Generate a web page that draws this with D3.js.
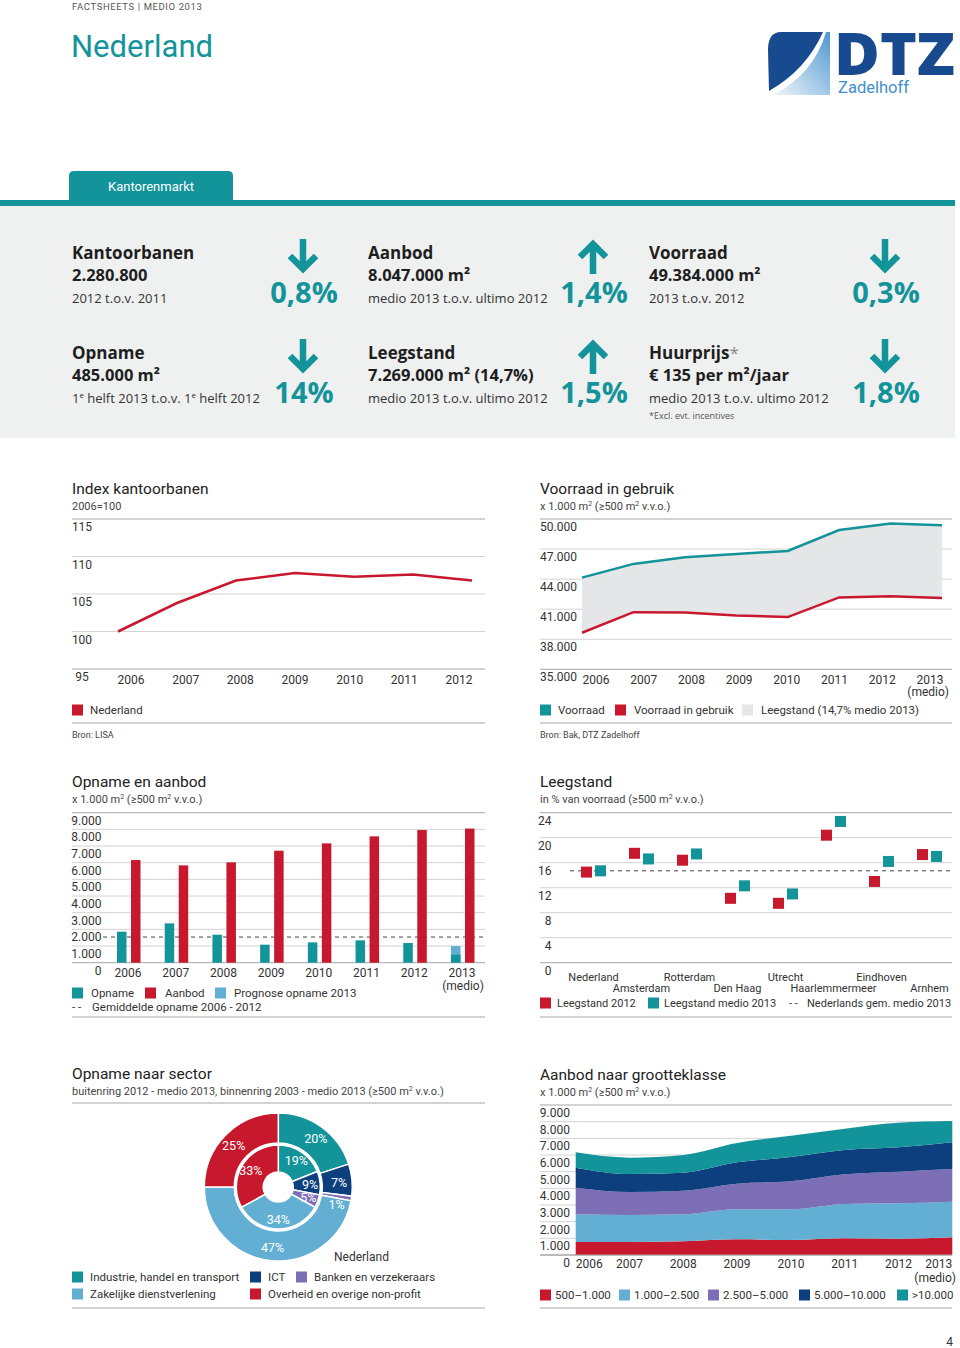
<!DOCTYPE html>
<html><head><meta charset="utf-8">
<script src="https://cdn.jsdelivr.net/npm/d3@7"></script>
<style>body{margin:0;background:#fff} svg{display:block}</style>
</head><body>
<script>
// ---------------- DATA ----------------
const kpiTitles = ["Kantoorbanen","Aanbod","Voorraad","Opname","Leegstand","Huurprijs"];
const kpiValues = ["2.280.800","8.047.000 m²","49.384.000 m²","485.000 m²","7.269.000 m² (14,7%)","€ 135 per m²/jaar"];
const kpiNotes = ["2012 t.o.v. 2011","medio 2013 t.o.v. ultimo 2012","2013 t.o.v. 2012","1|e| helft 2013 t.o.v. 1|e| helft 2012","medio 2013 t.o.v. ultimo 2012","medio 2013 t.o.v. ultimo 2012"];
const kpiChanges = ["0,8%","1,4%","0,3%","14%","1,5%","1,8%"];
const kpiDirs = ["down","up","down","down","up","down"];

const indexYears = ["2006","2007","2008","2009","2010","2011","2012"];
const indexValues = [100, 103.8, 106.8, 107.8, 107.3, 107.6, 106.8];
const indexTicks = [95, 100, 105, 110, 115];

const stockYears = ["2006","2007","2008","2009","2010","2011","2012","2013"];
const stockTotal = [44150, 45520, 46180, 46510, 46810, 48900, 49540, 49384];
const stockInUse = [38650, 40700, 40670, 40370, 40210, 42170, 42300, 42120];
const stockTicks = [35000, 38000, 41000, 44000, 47000, 50000];

const oaYears = ["2006","2007","2008","2009","2010","2011","2012","2013"];
const takeUp = [1860, 2360, 1680, 1080, 1220, 1340, 1180, 485];
const takeUpForecast = [0, 0, 0, 0, 0, 0, 0, 1000];
const supply = [6160, 5840, 6020, 6720, 7160, 7580, 7960, 8047];
const avgTakeUp = 1540;
const oaTicks = [0,1000,2000,3000,4000,5000,6000,7000,8000,9000];

const cities = ["Nederland","Amsterdam","Rotterdam","Den Haag","Utrecht","Haarlemmermeer","Eindhoven","Arnhem"];
const vacancy2012 = [14.5, 17.5, 16.4, 10.3, 9.5, 20.4, 13.0, 17.3];
const vacancy2013 = [14.7, 16.6, 17.4, 12.3, 11.0, 22.6, 16.2, 17.0];
const vacancyAvg = 14.7;
const vacTicks = [0, 4, 8, 12, 16, 20, 24];

const sectors = ["Industrie, handel en transport","ICT","Banken en verzekeraars","Zakelijke dienstverlening","Overheid en overige non-profit"];
const outerShares = [20, 7, 1, 47, 25];   // buitenring 2012 - medio 2013
const innerShares = [19, 9, 5, 34, 33];   // binnenring 2003 - medio 2013
const outerLabelNudge = [2, 1, 8, 0, -2]; // degrees, label placement only

const sizeYears = ["2006","2007","2008","2009","2010","2011","2012","2013"];
const sizeClasses = ["500–1.000","1.000–2.500","2.500–5.000","5.000–10.000",">10.000"];
const size500 = [780, 780, 820, 940, 900, 1000, 980, 1060];
const size1000 = [1660, 1620, 1620, 1800, 1840, 2060, 2120, 2140];
const size2500 = [1600, 1380, 1420, 1540, 1680, 1780, 1900, 1960];
const size5000 = [1200, 1080, 1080, 1280, 1460, 1460, 1460, 1600];
const size10000 = [920, 980, 1060, 1160, 1280, 1280, 1480, 1280];
const sizeTicks = [0,1000,2000,3000,4000,5000,6000,7000,8000,9000];

// ---------------- STYLE ----------------
const TEAL = "#13939a", RED = "#c8182d", LBLUE = "#62afd3", DBLUE = "#0d3f7f", PURPLE = "#7d6fb6", LGREY = "#e5e6e8";
const F = "Roboto, 'Open Sans', sans-serif";
const FB = "'Open Sans', sans-serif";
const GRID = "#d3d3d3", AXIS = "#a5a5a5", TXT = "#333";
const nl = d3.formatLocale({decimal:",", thousands:".", grouping:[3], currency:["€ ",""]});
const fmt = nl.format(",d");

const svg = d3.select("body").append("svg").attr("width",960).attr("height",1348)
  .style("background","#fff");

function txt(g, x, y, s, o = {}) {
  return g.append("text").attr("x", x).attr("y", y)
    .attr("font-family", o.family || F).attr("font-size", o.size || 12)
    .attr("font-weight", o.weight || 400).attr("fill", o.fill || TXT)
    .attr("text-anchor", o.anchor || "start").text(s);
}
function hl(g, x1, x2, y, color, w = 1, dash = null) {
  const l = g.append("line").attr("x1", x1).attr("x2", x2).attr("y1", y).attr("y2", y)
    .attr("stroke", color).attr("stroke-width", w);
  if (dash) l.attr("stroke-dasharray", dash);
  return l;
}
function sq(g, x, yc, color) {
  g.append("rect").attr("x", x).attr("y", yc - 5.5).attr("width", 11).attr("height", 11).attr("fill", color);
}
function titleBlock(g, x, y, title, sub) {
  txt(g, x, y, title, {size: 15.5, fill: "#222"});
  const s = txt(g, x, y + 16, "", {size: 11, fill: "#444"});
  const parts = sub.split("²");
  parts.forEach((part, i) => {
    s.append("tspan").attr("font-size", 11).attr("dy", i ? 4 : 0).text(part);
    if (i < parts.length - 1) s.append("tspan").attr("font-size", 7).attr("dy", -4).text("2");
  });
}

// ---------------- HEADER ----------------
txt(svg, 72, 10, "FACTSHEETS | MEDIO 2013", {size: 9.5, fill: "#555"}).attr("letter-spacing", 0.6);
txt(svg, 71, 57, "Nederland", {size: 31, fill: TEAL});

// Logo
const logo = svg.append("g");
const defs = svg.append("defs");
const grad = defs.append("linearGradient").attr("id","sail").attr("x1","0%").attr("y1","100%").attr("x2","100%").attr("y2","0%");
grad.append("stop").attr("offset","0%").attr("stop-color","#f2f7fb");
grad.append("stop").attr("offset","100%").attr("stop-color","#4f98d0");
logo.append("path").attr("d","M781 32 L823 32 Q806 70 769 91 L768 50 Q768 32 781 32 Z").attr("fill","#174a8e");
logo.append("path").attr("d","M826 32 L830 32 L830 95 L773 95 Q814 74 826 32 Z").attr("fill","url(#sail)");
txt(logo, 834, 75, "DTZ", {family: FB, size: 58, weight: 800, fill: "#174a8e"})
  .attr("textLength", 121).attr("lengthAdjust", "spacingAndGlyphs");
txt(logo, 838, 93, "Zadelhoff", {family: F, size: 16, fill: "#3f8fcd"})
  .attr("textLength", 71).attr("lengthAdjust", "spacingAndGlyphs");

// Tab + bar
svg.append("path").attr("d","M69 201 V176 Q69 171 74 171 H228 Q233 171 233 176 V201 Z").attr("fill", TEAL);
txt(svg, 151, 191, "Kantorenmarkt", {size: 13, fill: "#fff", anchor: "middle"});
svg.append("rect").attr("x",0).attr("y",200).attr("width",955).attr("height",6).attr("fill",TEAL);
svg.append("rect").attr("x",0).attr("y",206).attr("width",955).attr("height",232).attr("fill","#eff0f0");

// ---------------- KPI ----------------
const colX = [72, 368, 649], arrowX = [303, 593, 885], rowDY = [0, 100];
function arrow(g, cx, top, dir) {
  const a = g.append("g").attr("stroke", TEAL).attr("stroke-width", 6.5).attr("fill", "none")
    .attr("stroke-linejoin", "miter").attr("stroke-miterlimit", 10);
  if (dir === "down") {
    a.append("path").attr("d", `M${cx} ${top} V${top + 30}`);
    a.append("path").attr("d", `M${cx - 13} ${top + 17} L${cx} ${top + 30} L${cx + 13} ${top + 17}`);
  } else {
    a.append("path").attr("d", `M${cx} ${top + 35} V${top + 5}`);
    a.append("path").attr("d", `M${cx - 13} ${top + 18} L${cx} ${top + 5} L${cx + 13} ${top + 18}`);
  }
}
kpiTitles.forEach((t, i) => {
  const c = i % 3, r = Math.floor(i / 3), dy = rowDY[r];
  const g = svg.append("g");
  const tt = txt(g, colX[c], 259 + dy, t, {family: FB, size: 17, weight: 700, fill: "#1e1e1e"});
  if (t === "Huurprijs") tt.append("tspan").attr("font-weight", 400).attr("fill", "#888").text("*");
  txt(g, colX[c], 281 + dy, kpiValues[i], {family: FB, size: 16.5, weight: 700, fill: "#1e1e1e"});
  const n = txt(g, colX[c], 303 + dy, "", {family: FB, size: 13, fill: "#333"});
  kpiNotes[i].split("|").forEach((p, k) => {
    if (k % 2 === 1) n.append("tspan").attr("font-size", 8).attr("dy", -5).text(p);
    else n.append("tspan").attr("dy", k ? 5 : 0).text(p);
  });
  arrow(g, arrowX[c], 239 + dy, kpiDirs[i]);
  txt(g, arrowX[c] + 1, 303 + dy, kpiChanges[i], {family: FB, size: 29, weight: 700, fill: TEAL, anchor: "middle"});
});
txt(svg, 649, 419, "*Excl. evt. incentives", {family: FB, size: 9, fill: "#555"});

// ---------------- INDEX KANTOORBANEN ----------------
{
  const g = svg.append("g");
  titleBlock(g, 72, 494, "Index kantoorbanen", "2006=100");
  const y = d3.scaleLinear().domain([95, 115]).range([669, 519]);
  const x = d3.scalePoint().domain(indexYears).range([118, 472]);
  const xl = d3.scalePoint().domain(indexYears).range([131, 459]);
  indexTicks.forEach(t => {
    hl(g, 72, 485, y(t), (t === 95 || t === 115) ? AXIS : GRID);
    txt(g, 82, y(t) + 12, t, {size: 12, anchor: "middle"});
  });
  indexYears.forEach(yr => txt(g, xl(yr), 684, yr, {size: 12, anchor: "middle"}));
  g.append("path").datum(indexValues)
    .attr("d", d3.line().x((d, i) => x(indexYears[i])).y(d => y(d)))
    .attr("fill", "none").attr("stroke", RED).attr("stroke-width", 2.5);
  sq(g, 72, 710, RED); txt(g, 90, 714, "Nederland", {size: 11.5});
  hl(g, 72, 485, 723, AXIS, 1.2);
  txt(g, 72, 738, "Bron: LISA", {size: 9, fill: "#444"});
}

// ---------------- VOORRAAD IN GEBRUIK ----------------
{
  const g = svg.append("g");
  titleBlock(g, 540, 494, "Voorraad in gebruik", "x 1.000 m² (≥500 m² v.v.o.)");
  const y = d3.scaleLinear().domain([35000, 50000]).range([669.3, 519]);
  const x = d3.scalePoint().domain(stockYears).range([582, 942]);
  const xl = d3.scalePoint().domain(stockYears).range([596, 930]);
  stockTicks.forEach(t => {
    hl(g, 540, 952, y(t), (t === 35000 || t === 50000) ? AXIS : GRID);
  });
  g.append("path").datum(stockYears)
    .attr("d", d3.area().x(d => x(d)).y0((d, i) => y(stockInUse[i])).y1((d, i) => y(stockTotal[i])))
    .attr("fill", LGREY);
  stockTicks.forEach(t => txt(g, 540, y(t) + 12, fmt(t), {size: 12}));
  stockYears.forEach(yr => txt(g, xl(yr), 684, yr, {size: 12, anchor: "middle"}));
  txt(g, 949, 696, "(medio)", {size: 12, anchor: "end"});
  [[stockTotal, TEAL], [stockInUse, RED]].forEach(([arr, col]) => {
    g.append("path").datum(arr)
      .attr("d", d3.line().x((d, i) => x(stockYears[i])).y(d => y(d)))
      .attr("fill", "none").attr("stroke", col).attr("stroke-width", 2.5);
  });
  sq(g, 540, 710, TEAL); txt(g, 558, 714, "Voorraad", {size: 11.5});
  sq(g, 615, 710, RED); txt(g, 634, 714, "Voorraad in gebruik", {size: 11.5});
  sq(g, 742, 710, LGREY); txt(g, 761, 714, "Leegstand (14,7% medio 2013)", {size: 11.5});
  hl(g, 540, 952, 723, AXIS, 1.2);
  txt(g, 540, 738, "Bron: Bak, DTZ Zadelhoff", {size: 9, fill: "#444"});
}

// ---------------- OPNAME EN AANBOD ----------------
{
  const g = svg.append("g");
  titleBlock(g, 72, 787, "Opname en aanbod", "x 1.000 m² (≥500 m² v.v.o.)");
  const y = d3.scaleLinear().domain([0, 9000]).range([962.7, 812.7]);
  const x = d3.scalePoint().domain(oaYears).range([128, 462]);
  oaTicks.forEach(t => {
    hl(g, 72, 485, y(t), (t === 0 || t === 9000) ? AXIS : GRID);
    txt(g, 101.5, y(t) + 12, fmt(t), {size: 12, anchor: "end"});
  });
  hl(g, 103, 485, y(avgTakeUp), "#444", 1, "4,4");
  oaYears.forEach((yr, i) => {
    const c = x(yr);
    if (takeUpForecast[i] > 0)
      g.append("rect").attr("x", c - 11).attr("width", 9.5).attr("y", y(takeUpForecast[i]))
        .attr("height", y(0) - y(takeUpForecast[i])).attr("fill", LBLUE);
    g.append("rect").attr("x", c - 11).attr("width", 9.5).attr("y", y(takeUp[i]))
      .attr("height", y(0) - y(takeUp[i])).attr("fill", TEAL);
    g.append("rect").attr("x", c + 3).attr("width", 9.5).attr("y", y(supply[i]))
      .attr("height", y(0) - y(supply[i])).attr("fill", RED);
    txt(g, c, 977, yr, {size: 12, anchor: "middle"});
  });
  txt(g, x("2013") + 1, 990, "(medio)", {size: 12, anchor: "middle"});
  sq(g, 72, 993, TEAL); txt(g, 91, 997, "Opname", {size: 11.5});
  sq(g, 145, 993, RED); txt(g, 165, 997, "Aanbod", {size: 11.5});
  sq(g, 215, 993, LBLUE); txt(g, 234, 997, "Prognose opname 2013", {size: 11.5});
  txt(g, 72, 1011, "- -", {size: 11.5});
  txt(g, 92, 1011, "Gemiddelde opname 2006 - 2012", {size: 11.5});
  hl(g, 72, 485, 1017, AXIS, 1.2);
}

// ---------------- LEEGSTAND ----------------
{
  const g = svg.append("g");
  titleBlock(g, 540, 787, "Leegstand", "in % van voorraad (≥500 m² v.v.o.)");
  const y = d3.scaleLinear().domain([0, 24]).range([962.7, 812.7]);
  const x = d3.scalePoint().domain(cities).range([593.5, 929.5]);
  vacTicks.forEach(t => {
    hl(g, 540, 952, y(t), (t === 0 || t === 24) ? AXIS : GRID);
    txt(g, 551.5, y(t) + 12, t, {size: 12, anchor: "end"});
  });
  hl(g, 570, 952, y(vacancyAvg), "#444", 1, "4,4");
  cities.forEach((c, i) => {
    const cx = x(c);
    g.append("rect").attr("x", cx - 7 - 5.5).attr("y", y(vacancy2012[i]) - 5.5)
      .attr("width", 11).attr("height", 11).attr("fill", RED);
    g.append("rect").attr("x", cx + 7 - 5.5).attr("y", y(vacancy2013[i]) - 5.5)
      .attr("width", 11).attr("height", 11).attr("fill", TEAL);
    txt(g, cx, i % 2 ? 992 : 981, c, {size: 11, anchor: "middle"});
  });
  sq(g, 540, 1003, RED); txt(g, 557, 1007, "Leegstand 2012", {size: 11});
  sq(g, 648, 1003, TEAL); txt(g, 664, 1007, "Leegstand medio 2013", {size: 11});
  txt(g, 789, 1007, "- -", {size: 11});
  txt(g, 807, 1007, "Nederlands gem. medio 2013", {size: 11});
  hl(g, 540, 952, 1017, AXIS, 1.2);
}

// ---------------- OPNAME NAAR SECTOR ----------------
{
  const g = svg.append("g");
  titleBlock(g, 72, 1079, "Opname naar sector", "buitenring 2012 - medio 2013, binnenring 2003 - medio 2013 (≥500 m² v.v.o.)");
  hl(g, 72, 485, 1103, AXIS, 1.2);
  const colors = [TEAL, DBLUE, PURPLE, LBLUE, RED];
  const pie = d3.pie().sort(null).value(d => d);
  const cg = g.append("g").attr("transform", "translate(278.3,1187)");
  const rings = [
    {data: outerShares, r0: 44, r1: 74, lr: 61, nudge: outerLabelNudge},
    {data: innerShares, r0: 15, r1: 42, lr: 32, nudge: null}
  ];
  rings.forEach(rg => {
    const arc = d3.arc().innerRadius(rg.r0).outerRadius(rg.r1);
    const arcs = pie(rg.data);
    cg.selectAll(null).data(arcs).enter().append("path")
      .attr("d", arc).attr("fill", (d, i) => colors[i])
      .attr("stroke", "#fff").attr("stroke-width", 1.5);
    arcs.forEach((a, i) => {
      const ang = (a.startAngle + a.endAngle) / 2 + (rg.nudge ? rg.nudge[i] * Math.PI / 180 : 0);
      const lx = Math.sin(ang) * rg.lr, ly = -Math.cos(ang) * rg.lr;
      txt(cg, lx, ly + 4.5, a.data + "%", {size: 12.5, fill: "#fff", anchor: "middle"});
    });
  });
  cg.append("circle").attr("r", 43).attr("fill", "none").attr("stroke", "#fff").attr("stroke-width", 2);
  txt(g, 334, 1261, "Nederland", {size: 12});
  const lx = [72, 250, 296, 72, 250], ly = [1277, 1277, 1277, 1294, 1294];
  sectors.forEach((s, i) => {
    sq(g, lx[i], ly[i], colors[i]);
    txt(g, lx[i] + 18, ly[i] + 4, s, {size: 11.5});
  });
  hl(g, 72, 485, 1308, AXIS, 1.2);
}

// ---------------- AANBOD NAAR GROOTTEKLASSE ----------------
{
  const g = svg.append("g");
  titleBlock(g, 540, 1080, "Aanbod naar grootteklasse", "x 1.000 m² (≥500 m² v.v.o.)");
  const y = d3.scaleLinear().domain([0, 9000]).range([1255, 1105]);
  const x = d3.scalePoint().domain(sizeYears).range([575.7, 952.3]);
  const series = [size500, size1000, size2500, size5000, size10000];
  const colors = [RED, LBLUE, PURPLE, DBLUE, TEAL];
  const table = sizeYears.map((yr, i) => {
    const row = {year: yr};
    sizeClasses.forEach((k, j) => row[k] = series[j][i]);
    return row;
  });
  const stack = d3.stack().keys(sizeClasses)(table);
  sizeTicks.forEach(t => hl(g, 540, 952, y(t), (t === 0 || t === 9000) ? AXIS : GRID));
  g.selectAll(null).data(stack).enter().append("path")
    .attr("d", d3.area().curve(d3.curveMonotoneX).x(d => x(d.data.year)).y0(d => y(d[0])).y1(d => y(d[1])))
    .attr("fill", (d, i) => colors[i]);
  hl(g, 540, 952, y(0), AXIS);
  sizeTicks.forEach(t => txt(g, 570, y(t) + 12, fmt(t), {size: 12, anchor: "end"}));
  sizeYears.forEach((yr, i) => txt(g, x(yr), 1268, yr,
    {size: 12, anchor: i === 0 ? "start" : (i === sizeYears.length - 1 ? "end" : "middle")}));
  txt(g, 956, 1282, "(medio)", {size: 12, anchor: "end"});
  const lx = [540, 619, 708, 799, 897];
  sizeClasses.forEach((s, i) => {
    sq(g, lx[i], 1295, colors[i]);
    txt(g, lx[i] + 15, 1299, s, {size: 11.5});
  });
  hl(g, 540, 952, 1308, AXIS, 1.2);
}

txt(svg, 953, 1346, "4", {size: 12, anchor: "end"});
</script>
</body></html>
